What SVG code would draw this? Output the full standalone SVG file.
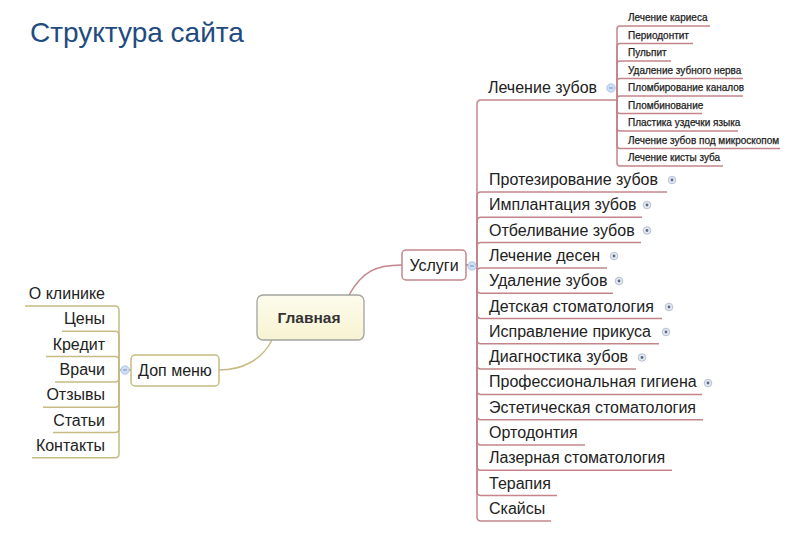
<svg xmlns="http://www.w3.org/2000/svg" width="800" height="541" viewBox="0 0 800 541">
<defs>
<linearGradient id="gMain" x1="0" y1="0" x2="0" y2="1"><stop offset="0" stop-color="#fdfcec"/><stop offset="1" stop-color="#f7f3d2"/></linearGradient>
<g id="plus"><circle r="3.8" fill="#e4e8f0" stroke="#a9b4c8" stroke-width="0.8"/><circle r="1.4" fill="#5a6a88"/></g>
<g id="minus"><circle r="4.2" fill="#cfe0f5" stroke="#9fbde0" stroke-width="0.8"/><line x1="-2" y1="0" x2="2" y2="0" stroke="#6f94c4" stroke-width="1"/></g>
</defs>
<style>
text{font-family:"Liberation Sans",Arial,sans-serif;fill:#222}
.t{font-size:16px}
.s{font-size:10px;fill:#222;stroke:#222;stroke-width:0.25}
.r{stroke:#c4858a;stroke-width:1.5;fill:none}
.y{stroke:#c6bb82;stroke-width:1.5;fill:none}
</style>
<rect width="800" height="541" fill="#fff"/>
<text x="30" y="42" style="font-size:28px;fill:#1f4c80">Структура сайта</text>

<g id="connectors">
<path class="r" d="M349 295 C362 272 375 265 402 265"/>
<path class="y" d="M272 340 C262 360 242 370 219 370"/>
<path class="r" d="M466 265 H477 V104 Q477 100 481 100 H617"/>
<path class="r" d="M466 265 H477 V196 Q477 192 481 192 H667"/>
<path class="r" d="M466 265 H477 V221.3 Q477 217.3 481 217.3 H642"/>
<path class="r" d="M466 265 H477 V246.6 Q477 242.6 481 242.6 H641"/>
<path class="r" d="M466 265 H477 V271.9 Q477 267.9 481 267.9 H607"/>
<path class="r" d="M466 265 H477 V289.2 Q477 293.2 481 293.2 H613"/>
<path class="r" d="M466 265 H477 V314.5 Q477 318.5 481 318.5 H662"/>
<path class="r" d="M466 265 H477 V339.8 Q477 343.8 481 343.8 H659"/>
<path class="r" d="M466 265 H477 V365.1 Q477 369.1 481 369.1 H636"/>
<path class="r" d="M466 265 H477 V390.4 Q477 394.4 481 394.4 H702"/>
<path class="r" d="M466 265 H477 V415.7 Q477 419.7 481 419.7 H703"/>
<path class="r" d="M466 265 H477 V441 Q477 445 481 445 H585"/>
<path class="r" d="M466 265 H477 V466.3 Q477 470.3 481 470.3 H672"/>
<path class="r" d="M466 265 H477 V491.6 Q477 495.6 481 495.6 H557"/>
<path class="r" d="M466 265 H477 V516.9 Q477 520.9 481 520.9 H551"/>
<path class="r" d="M617 100 V29 Q617 26 620 26 H710"/>
<path class="r" d="M617 100 V46.5 Q617 43.5 620 43.5 H693"/>
<path class="r" d="M617 100 V64 Q617 61 620 61 H671"/>
<path class="r" d="M617 100 V81.5 Q617 78.5 620 78.5 H743"/>
<path class="r" d="M617 100 V99 Q617 96 620 96 H743"/>
<path class="r" d="M617 100 V110.5 Q617 113.5 620 113.5 H702"/>
<path class="r" d="M617 100 V128 Q617 131 620 131 H738"/>
<path class="r" d="M617 100 V145.5 Q617 148.5 620 148.5 H780"/>
<path class="r" d="M617 100 V163 Q617 166 620 166 H723"/>
<path class="y" d="M131 370 H119 V310 Q119 306 115 306 H25"/>
<path class="y" d="M131 370 H119 V335.3 Q119 331.3 115 331.3 H62"/>
<path class="y" d="M131 370 H119 V360.6 Q119 356.6 115 356.6 H46"/>
<path class="y" d="M131 370 H119 V377.9 Q119 381.9 115 381.9 H55"/>
<path class="y" d="M131 370 H119 V403.2 Q119 407.2 115 407.2 H43"/>
<path class="y" d="M131 370 H119 V428.5 Q119 432.5 115 432.5 H53"/>
<path class="y" d="M131 370 H119 V453.8 Q119 457.8 115 457.8 H32"/>
</g>

<g id="main">
<rect x="257" y="295" width="107" height="45" rx="6" fill="url(#gMain)" stroke="#a3a3a0" stroke-width="1.3"/>
<text x="309" y="323" text-anchor="middle" style="font-size:15.5px;font-weight:bold;fill:#333">Главная</text>
</g>

<g id="uslugi">
<rect x="402" y="250" width="64" height="30" rx="4" fill="#fff" stroke="#c4858a" stroke-width="1.5"/>
<text x="434" y="271" text-anchor="middle" class="t">Услуги</text>
<use href="#minus" x="472" y="266"/>
</g>

<g id="dopmenu">
<rect x="131" y="355" width="88" height="31" rx="4" fill="#fff" stroke="#c6bb82" stroke-width="1.5"/>
<text x="175" y="376" text-anchor="middle" class="t">Доп меню</text>
<use href="#minus" x="125" y="370"/>
</g>

<g id="lechenie-zubov">
<text x="488" y="93" class="t">Лечение зубов</text>
<use href="#minus" x="611" y="88"/>
</g>

<g id="sub-items">
<text x="628" y="21" class="s">Лечение кариеса</text>
<text x="628" y="38.5" class="s">Периодонтит</text>
<text x="628" y="56" class="s">Пульпит</text>
<text x="628" y="73.5" class="s">Удаление зубного нерва</text>
<text x="628" y="91" class="s">Пломбирование каналов</text>
<text x="628" y="108.5" class="s">Пломбинование</text>
<text x="628" y="126" class="s">Пластика уздечки языка</text>
<text x="628" y="143.5" class="s">Лечение зубов под микроскопом</text>
<text x="628" y="161" class="s">Лечение кисты зуба</text>
</g>

<g id="services">
<g id="s1"><text x="489" y="185" class="t">Протезирование зубов</text><use href="#plus" x="672" y="180"/></g>
<g id="s2"><text x="489" y="210.3" class="t">Имплантация зубов</text><use href="#plus" x="647" y="205"/></g>
<g id="s3"><text x="489" y="235.6" class="t">Отбеливание зубов</text><use href="#plus" x="647" y="230.5"/></g>
<g id="s4"><text x="489" y="260.9" class="t">Лечение десен</text><use href="#plus" x="614" y="256"/></g>
<g id="s5"><text x="489" y="286.2" class="t">Удаление зубов</text><use href="#plus" x="619" y="281"/></g>
<g id="s6"><text x="489" y="311.5" class="t">Детская стоматология</text><use href="#plus" x="669" y="307"/></g>
<g id="s7"><text x="489" y="336.8" class="t">Исправление прикуса</text><use href="#plus" x="666" y="332"/></g>
<g id="s8"><text x="489" y="362.1" class="t">Диагностика зубов</text><use href="#plus" x="642" y="357.5"/></g>
<g id="s9"><text x="489" y="387.4" class="t">Профессиональная гигиена</text><use href="#plus" x="708" y="383"/></g>
<g id="s10"><text x="489" y="412.7" class="t">Эстетическая стоматология</text></g>
<g id="s11"><text x="489" y="438" class="t">Ортодонтия</text></g>
<g id="s12"><text x="489" y="463.3" class="t">Лазерная стоматология</text></g>
<g id="s13"><text x="489" y="488.6" class="t">Терапия</text></g>
<g id="s14"><text x="489" y="513.9" class="t">Скайсы</text></g>
</g>

<g id="menu">
<text x="105" y="299" text-anchor="end" class="t">О клинике</text>
<text x="105" y="324.3" text-anchor="end" class="t">Цены</text>
<text x="105" y="349.6" text-anchor="end" class="t">Кредит</text>
<text x="105" y="374.9" text-anchor="end" class="t">Врачи</text>
<text x="105" y="400.2" text-anchor="end" class="t">Отзывы</text>
<text x="105" y="425.5" text-anchor="end" class="t">Статьи</text>
<text x="105" y="450.8" text-anchor="end" class="t">Контакты</text>
</g>
</svg>
